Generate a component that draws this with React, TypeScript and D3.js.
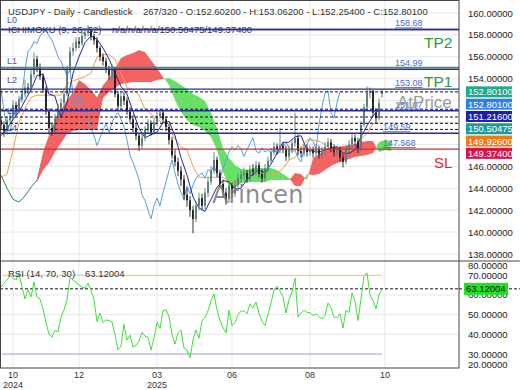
import React from 'react';
import * as d3 from 'd3';

const W = 520;
const H = 390;

// ---------- data ----------
const opens = [150.2,149.8,149.2,150.2,150.6,151.6,151.0,152.1,152.6,153.2,
153.0,154.4,155.8,155.0,154.2,153.0,151.0,149.5,149.2,150.4,
151.3,151.8,152.6,154.8,156.5,156.8,157.4,157.2,157.9,158.2,
158.4,157.9,157.5,156.8,156.0,155.6,154.9,154.3,154.8,152.6,
151.5,152.4,152.0,151.0,150.3,149.5,148.8,147.9,148.6,149.3,
149.9,149.1,150.0,150.6,150.9,150.3,149.6,148.4,147.0,146.4,
145.6,144.8,143.4,142.9,142.0,141.2,142.4,143.1,142.4,143.6,
144.6,145.6,146.6,145.4,144.4,143.6,143.0,144.2,143.5,144.3,
144.9,145.2,145.4,144.9,145.7,145.5,146.1,145.3,144.9,145.8,
146.5,147.3,147.8,147.5,147.9,147.6,146.9,147.5,148.1,148.6,
147.4,147.2,147.7,147.3,147.5,147.2,147.6,147.1,147.4,147.8,
148.2,147.7,147.3,147.5,146.8,146.4,147.6,148.0,148.6,148.3,
147.6,149.8,151.4,152.7,152.9,150.9,150.4,152.602];

const closes = [149.8,149.2,150.2,150.6,151.6,151.0,152.1,152.6,153.2,153.0,
154.4,155.8,155.0,154.2,153.0,151.0,149.5,149.2,150.4,151.3,
151.8,152.6,154.8,156.5,156.8,157.4,157.2,157.9,158.2,158.4,
157.9,157.5,156.8,156.0,155.6,154.9,154.3,154.8,152.6,151.5,
152.4,152.0,151.0,150.3,149.5,148.8,147.9,148.6,149.3,149.9,
149.1,150.0,150.6,150.9,150.3,149.6,148.4,147.0,146.4,145.6,
144.8,143.4,142.9,142.0,141.2,142.4,143.1,142.4,143.6,144.6,
145.6,146.6,145.4,144.4,143.6,143.0,144.2,143.5,144.3,144.9,
145.2,145.4,144.9,145.7,145.5,146.1,145.3,144.9,145.8,146.5,
147.3,147.8,147.5,147.9,147.6,146.9,147.5,148.1,148.6,147.4,
147.2,147.7,147.3,147.5,147.2,147.6,147.1,147.4,147.8,148.2,
147.7,147.3,147.5,146.8,146.4,147.6,148.0,148.6,148.3,147.6,
149.8,151.4,152.7,152.9,150.9,150.4,151.8,152.801];

const highs = [150.6,150.1,150.5,151.0,152.0,151.9,152.4,153.0,153.9,153.6,
154.8,156.4,156.1,155.4,154.5,153.3,151.3,149.9,150.8,151.7,
152.2,153.0,155.2,156.9,157.3,157.8,157.8,158.3,158.6,158.9,
158.6,158.1,157.8,157.0,156.3,155.9,155.2,155.3,155.0,152.9,
152.8,152.8,152.3,151.4,150.7,149.9,149.1,149.0,149.7,150.3,
150.2,150.4,151.0,151.3,151.2,150.6,149.9,148.7,147.5,146.8,
146.0,145.2,144.0,143.3,142.4,142.8,143.6,143.5,144.0,145.0,
146.0,147.3,146.9,145.7,144.8,144.0,144.6,144.5,144.7,145.3,
145.6,145.9,145.7,146.1,146.2,146.5,146.4,145.7,146.2,146.9,
147.7,148.2,148.1,149.5,148.2,147.9,147.9,148.5,150.9,148.9,
147.8,148.1,148.0,147.9,147.8,148.0,147.9,147.8,148.2,148.6,
148.5,148.0,147.9,147.8,147.1,147.9,148.4,149.0,148.9,148.6,
150.1,151.7,153.3,153.2,153.0,151.3,152.2,153.062];

const lows = [149.4,148.7,148.9,149.9,150.3,150.6,150.8,151.8,152.3,152.6,
152.8,154.1,154.6,153.9,152.7,150.7,148.9,148.8,149.0,150.1,
151.0,151.5,152.4,154.6,156.1,156.5,156.8,157.0,157.6,157.9,
157.5,157.1,156.4,155.6,155.2,154.5,153.9,154.0,152.3,151.1,
151.2,151.6,150.7,150.0,149.1,148.4,147.4,147.6,148.3,149.0,
148.8,148.9,149.7,150.3,150.0,149.2,148.0,146.7,146.0,145.1,
144.2,142.9,142.3,141.4,139.9,140.9,142.0,142.0,142.1,143.2,
144.3,145.3,145.0,144.0,143.1,142.5,142.7,143.1,143.2,144.0,
144.5,144.8,144.5,144.6,145.1,145.2,145.0,144.5,144.6,145.5,
146.2,147.0,147.1,147.2,147.2,146.5,146.6,147.2,147.8,147.0,
146.8,146.9,146.9,147.0,146.8,146.9,146.7,146.8,147.1,147.5,
147.3,146.9,147.0,146.4,145.9,146.2,147.3,147.7,147.9,147.2,
147.4,149.6,151.1,152.2,150.6,149.9,150.2,152.254];

// Ichimoku lines, one value every 2 bars starting at bar 0
const tenkan = [148.8,149.4,150.3,151.0,152.0,153.0,154.3,154.4,152.6,152.4,
150.5,151.8,154.5,156.0,157.3,157.9,157.6,156.8,155.8,154.5,
153.3,152.6,151.0,149.5,148.6,148.9,149.1,150.0,150.1,148.8,
146.8,145.2,143.2,142.2,141.9,143.0,144.1,144.7,144.6,143.9,
144.0,144.8,145.3,145.7,145.4,146.2,147.2,148.2,148.2,148.7,
148.8,147.5,147.4,147.3,147.5,147.7,147.8,147.2,147.2,147.5,
148.7,149.7,150.6,151.216];

const kijun = [145.0,145.3,147.5,150.0,151.3,152.3,152.5,152.5,152.5,152.5,
152.5,153.5,153.8,154.0,154.2,154.5,156.0,156.2,156.2,155.8,
154.5,153.2,153.0,152.5,151.2,150.8,150.3,150.0,149.5,148.5,
147.8,147.5,146.0,145.0,145.0,145.0,145.0,145.0,144.6,144.5,
145.2,145.2,145.2,145.2,145.2,145.2,145.3,145.8,146.6,146.8,
147.6,148.4,148.4,148.3,148.0,147.5,147.4,147.4,147.4,147.6,
148.5,149.0,149.9,149.926];

// cloud spans, one value every 2 bars starting at bar 12
const spanA = [144.57,145.66,146.30,147.31,148.13,148.95,149.22,149.32,149.32,149.32,
149.32,152.24,152.79,153.15,153.52,153.61,153.70,153.70,153.70,153.70,
153.88,153.97,154.06,153.79,153.42,153.06,152.60,152.33,151.96,150.87,
149.50,147.67,146.76,146.12,145.75,145.66,145.84,145.84,145.84,145.84,
145.66,145.30,144.93,144.20,144.20,145.30,145.21,145.30,145.66,146.03,
146.30,146.48,146.67,146.85,146.94,147.03,147.21,148.22,148.40,148.31];

const spanB = [144.93,147.31,148.86,150.23,151.14,152.05,152.79,153.88,153.52,152.97,
152.33,153.42,154.06,154.98,155.89,156.16,156.35,156.62,156.44,155.71,
154.98,154.16,153.42,152.05,150.96,150.23,149.77,149.59,149.22,148.68,
147.49,145.48,144.20,144.02,144.47,144.57,144.57,144.57,144.57,144.75,
144.75,144.75,144.75,145.39,145.30,144.75,146.76,147.12,147.49,147.76,
147.76,147.85,147.95,148.04,148.22,148.31,148.31,147.31,147.49,147.40];

// lead line before the cloud, every 2 bars from bar 0
const leadLine = [145.2,144.0,143.0,142.74,143.3,144.1,144.75];

const rsi = [64,66,67.5,70,68.5,67.6,71,64,58,62.5,
59,66.6,59,58,53,46,40,38.5,42,41.2,
48.8,52.3,57.5,69,67.6,66.6,65,64,63.5,66,
62.5,57.5,46.5,50.8,46,47.3,47,46.3,40,32,
34,45,37,39.5,33.5,34.5,36.5,41,39,38.6,
32,38,46,43,52,52.5,49,40,35,40.6,
42.2,33,32,28,37.1,42.2,38,47,48.5,52,
57,60.5,52.5,47,43.5,40.6,52.3,44.5,46,50,
51.8,52,50.5,55.5,53.4,56.4,50.8,46.5,44.5,50,
56,62.5,64.5,62,59,50.8,57.5,61.5,68.6,48.8,
50.8,52.3,51.2,51,49.5,50.5,49,47.8,49.5,55.9,
53.4,48.8,48.4,50.5,43.2,52.3,51,61,57,47,
58,69.5,71.2,60,57,53,60,63.12004];

const chikouShift = 14;

const priceTicks = [138,140,142,144,146,148,150,152,154,156,158,160];
const rsiTicks = [20,30,40,50,60,70,80];
const rsiGrid = [40,50,60];
const tickBars = [4,26,52,77,103,128];
const tickMonths = ['10','12','03','06','08','10'];
const tickYears = ['2024','','2025','','',''];

const solidLevels = [158.50,154.86,153.05,151.08,149.02];
const levelNames = ['L0','L1','L2','L3','L4'];
const tpGreenLevel = 155.03;
const slLevel = 147.568;
const dashedLevels = [152.801,151.216,150.50475,149.926,149.374];

const tagValues = [152.801,152.801,151.216,150.50475,149.926,149.374];
const tagColors = ['#22a889','#2f7fe6','#1f1fae','#1f9a9a','#f07a10','#d8124a'];
const levelLabels = ['158.68','154.99','153.08','151.07','149.59','147.568'];
const levelLabelPrices = [158.50,154.86,153.05,151.08,149.02,147.568];
const rsiValue = 63.12004;

// ---------- layout ----------
const PL = 0, PR = 459, PT = 0, PB = 261, RB = 368;
const FONT = '"Liberation Sans", Arial, sans-serif';
const levelNameY = [23, 64, 83, 114, 131];

export default function App() {
  const x = d3.scaleLinear().domain([0, 153]).range([1, 460]);
  const y = d3.scaleLinear().domain([138, 160]).range([254, 13]);
  const ry = d3.scaleLinear().domain([30, 70]).range([354, 275.3]);

  const stepPts = (arr: number[], start: number) => arr.map((v, k) => [start + 2 * k, v] as [number, number]);
  const line = d3.line<[number, number]>().x(d => x(d[0])).y(d => y(d[1]));

  const cloud = spanA.map((a, k) => ({ i: 12 + 2 * k, a, b: spanB[k] }));
  const areaAB = d3.area<any>().x(d => x(d.i)).y0(d => y(d.a)).y1(d => y(d.b))(cloud) || '';
  const aboveB = d3.area<any>().x(d => x(d.i)).y0(PT).y1(d => y(d.b))(cloud) || '';
  const belowB = d3.area<any>().x(d => x(d.i)).y0(d => y(d.b)).y1(PB)(cloud) || '';

  const chikou = closes.map((c, i) => [i - chikouShift, c] as [number, number]).filter(d => d[0] >= -1);
  const rsiPath = d3.line<number>().x((_, i) => x(i)).y(v => ry(v))(rsi) || '';

  // tag stacking
  const tagH = 11;
  const tagYs: number[] = [];
  tagValues.forEach((v, k) => {
    let cy = y(v);
    if (k > 0 && cy < tagYs[k - 1] + 12.3) cy = tagYs[k - 1] + 12.3;
    tagYs.push(cy);
  });
  const tagTop = tagYs[0] - tagH / 2;
  const tagBottom = tagYs[tagYs.length - 1] + tagH / 2;
  const visiblePriceTicks = priceTicks.filter(p => y(p) < tagTop - 3 || y(p) > tagBottom + 3);

  const lastBar = closes.length - 1;

  return (
    <svg width={W} height={H} style={{ position: 'absolute', left: 0, top: 0, background: '#fff' }}
      fontFamily={FONT}>
      <defs>
        <clipPath id="mainClip"><rect x={PL} y={PT} width={PR - PL} height={PB - PT} /></clipPath>
        <clipPath id="rsiClip"><rect x={PL} y={PB} width={PR - PL} height={RB - PB} /></clipPath>
        <clipPath id="aboveB"><path d={aboveB} /></clipPath>
        <clipPath id="belowB"><path d={belowB} /></clipPath>
      </defs>
      <rect x={0} y={0} width={W} height={H} fill="#fff" />

      {/* grid */}
      <g stroke="#e7e7e7" strokeWidth={1}>
        {priceTicks.map(p => <line key={'hg' + p} x1={PL} x2={PR} y1={y(p)} y2={y(p)} />)}
        {rsiGrid.map(v => <line key={'rg' + v} x1={PL} x2={PR} y1={ry(v)} y2={ry(v)} />)}
        {tickBars.map((b, k) => <line key={'vg' + k} x1={x(b)} x2={x(b)} y1={PT} y2={RB} />)}
      </g>

      <g clipPath="url(#mainClip)">
        {/* cloud */}
        <path d={areaAB} fill="#66e066" clipPath="url(#aboveB)" />
        <path d={areaAB} fill="#f26464" clipPath="url(#belowB)" />
        <path d={line(stepPts(leadLine, 0)) || ''} fill="none" stroke="#2f8a5e" strokeWidth={1} />
        {/* kijun, chikou, tenkan */}
        <path d={line(stepPts(kijun, 0)) || ''} fill="none" stroke="#f2a04e" strokeWidth={1} />
        <path d={line(chikou) || ''} fill="none" stroke="#5b9de0" strokeWidth={1} />
        <path d={line(stepPts(tenkan, 0)) || ''} fill="none" stroke="#2424a8" strokeWidth={1} />
        {/* candles */}
        {closes.map((c, i) => {
          const o = opens[i];
          const up = c >= o;
          const col = up ? '#557a7a' : '#1c1c1c';
          const top = y(Math.max(o, c));
          const bot = y(Math.min(o, c));
          return (
            <g key={'c' + i}>
              <line x1={x(i)} x2={x(i)} y1={y(highs[i])} y2={y(lows[i])} stroke={col} strokeWidth={0.9} />
              <rect x={x(i) - 0.9} y={top} width={1.8} height={Math.max(0.8, bot - top)} fill={col} />
            </g>
          );
        })}
        {/* watermark */}
        <text x={212} y={203} fontSize={24} fill="#777" fillOpacity={0.85} fontFamily='"DejaVu Sans", sans-serif'>Arincen</text>
        {/* levels */}
        <line x1={PL} x2={PR} y1={y(tpGreenLevel)} y2={y(tpGreenLevel)} stroke="#3a9a52" strokeWidth={1.5} />
        {solidLevels.map((p, k) => (
          <line key={'sl' + k} x1={PL} x2={PR} y1={y(p)} y2={y(p)} stroke="#2b2ba0" strokeWidth={1.4} />
        ))}
        <line x1={PL} x2={PR} y1={y(slLevel)} y2={y(slLevel)} stroke="#c83030" strokeWidth={1.2} />
        {dashedLevels.map((p, k) => (
          <line key={'dl' + k} x1={PL} x2={PR} y1={y(p)} y2={y(p)} stroke="#111" strokeWidth={1} strokeDasharray="3,2" />
        ))}
        {levelNames.map((t, k) => (
          <text key={'ln' + k} x={7} y={levelNameY[k]} fontSize={9} fill="#4a5aa8">{t}</text>
        ))}
        {levelLabels.map((t, k) => (
          <text key={'ll' + k} x={k >= 4 ? 383 : 395} y={y(levelLabelPrices[k]) - 3} fontSize={9} fill="#4a6ad8"
            textDecoration="underline">{t}</text>
        ))}
        <text x={397} y={108} fontSize={17} fill="#9a9a9a">AtPrice</text>
        <text x={424} y={48} fontSize={15.5} fill="#2d9a3c">TP2</text>
        <text x={424} y={87} fontSize={15.5} fill="#2d9a3c">TP1</text>
        <text x={434} y={168} fontSize={15} fill="#d02a2a">SL</text>
      </g>

      {/* header */}
      <text x={8} y={15} fontSize={9.5} fill="#333">USDJPY - Daily - Candlestick</text>
      <text x={143} y={15} fontSize={9.5} fill="#333">267/320 - O:152.60200 - H:153.06200 - L:152.25400 - C:152.80100</text>
      <text x={8} y={33} fontSize={9.5} fill="#333">ICHIMOKU (9, 26, 52)</text>
      <text x={112} y={33} fontSize={9.5} fill="#333">n/a/n/a/n/a/150.50475/149.37400</text>
      <line x1={PL} x2={PR} y1={y(solidLevels[0])} y2={y(solidLevels[0])} stroke="#2b2ba0" strokeWidth={1.4} />

      {/* RSI panel */}
      <g clipPath="url(#rsiClip)">
        <line x1={x(0) + 1} x2={x(lastBar)} y1={ry(70)} y2={ry(70)} stroke="#f5cf8a" strokeWidth={1.2} />
        <line x1={x(0) + 1} x2={x(lastBar)} y1={ry(30)} y2={ry(30)} stroke="#b08ef0" strokeWidth={1.2} />
        <line x1={PL} x2={PR} y1={ry(rsiValue)} y2={ry(rsiValue)} stroke="#111" strokeWidth={1} strokeDasharray="3,2" />
        <path d={rsiPath} fill="none" stroke="#3ee03e" strokeWidth={1} />
      </g>
      <text x={8} y={277} fontSize={9.5} fill="#333">RSI (14, 70, 30)</text>
      <text x={85} y={277} fontSize={9.5} fill="#333">63.12004</text>
      <line x1={PR} x2={W} y1={ry(rsiValue)} y2={ry(rsiValue)} stroke="#111" strokeWidth={1} strokeDasharray="3,2" />

      {/* frame */}
      <rect x={0.5} y={0.5} width={PR - 0.5} height={RB - 0.5} fill="none" stroke="#444" strokeWidth={1} />
      <line x1={0} x2={W} y1={PB} y2={PB} stroke="#444" strokeWidth={1} />

      {/* price axis */}
      {visiblePriceTicks.map(p => (
        <text key={'pt' + p} x={468} y={y(p) + 3.5} fontSize={9.5} fill="#222">{p.toFixed(5)}</text>
      ))}
      {tagValues.map((v, k) => (
        <g key={'tag' + k}>
          <rect x={466} y={tagYs[k] - tagH / 2} width={46} height={tagH} fill={tagColors[k]} />
          <text x={468} y={tagYs[k] + 3.5} fontSize={9.5} fill="#fff">{v.toFixed(5)}</text>
        </g>
      ))}

      {/* rsi axis */}
      {rsiTicks.map(v => {
        const yy = Math.max(PB + 4, Math.min(RB - 4, ry(v)));
        return <text key={'rt' + v} x={468} y={yy + 3.5} fontSize={9.5} fill="#222">{v.toFixed(5)}</text>;
      })}
      <rect x={464} y={ry(rsiValue) - 6} width={44} height={12} fill="#22e022" />
      <text x={466} y={ry(rsiValue) + 3.5} fontSize={9.5} fill="#111">{rsiValue.toFixed(5)}</text>

      {/* x axis */}
      {tickBars.map((b, k) => (
        <g key={'xt' + k}>
          <text x={x(b)} y={378} fontSize={9} fill="#333" textAnchor="middle">{tickMonths[k]}</text>
          {tickYears[k] && <text x={x(b)} y={388} fontSize={9} fill="#333" textAnchor="middle">{tickYears[k]}</text>}
        </g>
      ))}
    </svg>
  );
}
